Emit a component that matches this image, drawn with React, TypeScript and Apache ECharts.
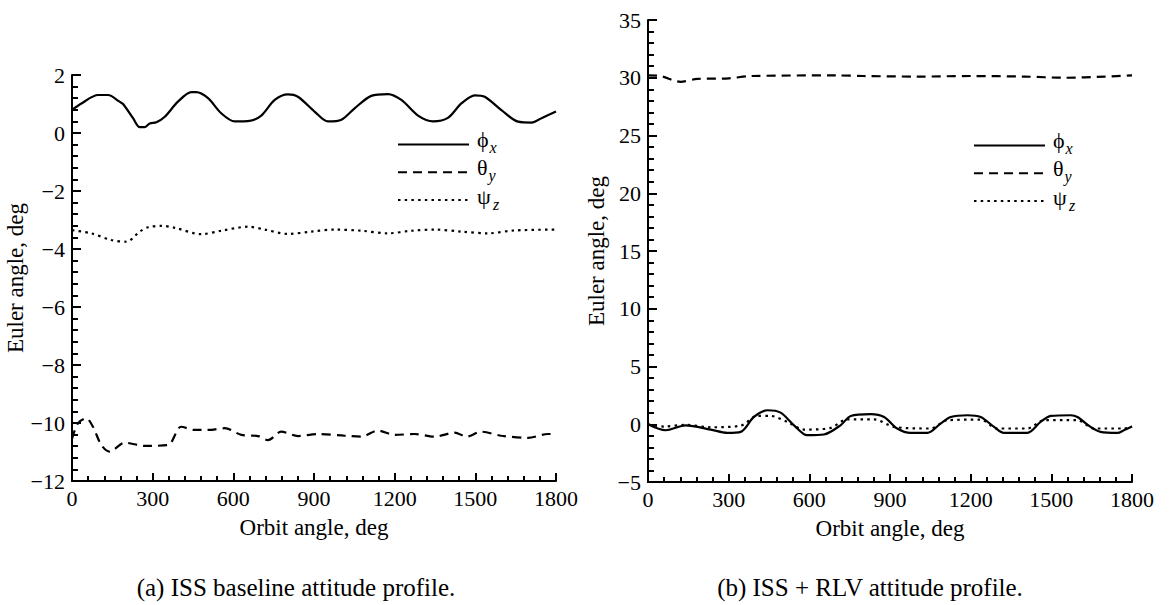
import React, { useEffect, useRef } from 'react';
import * as echarts from 'echarts';

const FONT = '"Liberation Serif", "Times New Roman", Times, serif';

// (a) ISS baseline
const aPhiX = [0, 35, 97, 134, 177, 190, 227, 252, 270, 289, 314, 345, 394, 444, 462, 506, 555, 605, 661, 704, 754, 803, 840, 902, 952, 1002, 1051, 1113, 1175, 1225, 1287, 1343, 1398, 1448, 1498, 1535, 1597, 1659, 1709, 1746, 1800];
const aPhiY = [0.8, 1.02, 1.31, 1.31, 1.08, 1.0, 0.51, 0.2, 0.2, 0.33, 0.37, 0.56, 1.08, 1.41, 1.41, 1.2, 0.68, 0.4, 0.42, 0.6, 1.14, 1.33, 1.25, 0.74, 0.4, 0.46, 0.85, 1.28, 1.34, 1.14, 0.6, 0.4, 0.52, 1.02, 1.3, 1.25, 0.79, 0.39, 0.36, 0.51, 0.74];
const aThetaX = [0, 22, 53, 78, 109, 140, 196, 270, 357, 406, 456, 506, 568, 630, 692, 729, 778, 840, 915, 1014, 1076, 1138, 1200, 1274, 1349, 1423, 1467, 1522, 1597, 1696, 1770, 1800];
const aThetaY = [-10.55, -10.01, -9.84, -10.13, -10.76, -10.99, -10.68, -10.79, -10.76, -10.13, -10.24, -10.24, -10.18, -10.41, -10.45, -10.59, -10.3, -10.45, -10.38, -10.44, -10.47, -10.26, -10.41, -10.38, -10.47, -10.33, -10.47, -10.3, -10.44, -10.51, -10.38, -10.38];
const aPsiX = [0, 72, 146, 202, 252, 283, 332, 382, 481, 555, 655, 717, 803, 890, 977, 1076, 1175, 1262, 1349, 1448, 1547, 1646, 1800];
const aPsiY = [-3.35, -3.46, -3.69, -3.75, -3.4, -3.25, -3.2, -3.27, -3.49, -3.37, -3.23, -3.33, -3.48, -3.4, -3.33, -3.37, -3.46, -3.37, -3.33, -3.4, -3.46, -3.36, -3.33];

// (b) ISS + RLV
const bPhiX = [0, 66, 140, 233, 295, 345, 394, 444, 493, 543, 592, 654, 716, 754, 828, 878, 927, 977, 1039, 1088, 1126, 1188, 1237, 1287, 1324, 1411, 1460, 1498, 1572, 1597, 1646, 1683, 1746, 1770, 1800];
const bPhiY = [0, -0.52, -0.09, -0.46, -0.75, -0.66, 0.63, 1.21, 1.01, -0.09, -0.95, -0.89, -0.09, 0.72, 0.87, 0.63, -0.37, -0.75, -0.75, 0.06, 0.63, 0.78, 0.63, -0.23, -0.75, -0.75, 0.2, 0.72, 0.78, 0.63, -0.23, -0.66, -0.75, -0.52, -0.2];
const bThetaX = [0, 45, 121, 183, 300, 380, 700, 800, 1000, 1200, 1400, 1550, 1700, 1800];
const bThetaY = [30.2, 30.15, 29.65, 29.9, 29.95, 30.15, 30.2, 30.15, 30.1, 30.15, 30.1, 30.0, 30.1, 30.2];
const bPsiX = [0, 60, 140, 233, 345, 406, 456, 518, 580, 679, 741, 840, 915, 1051, 1113, 1237, 1299, 1411, 1473, 1597, 1659, 1770, 1800];
const bPsiY = [0, -0.2, -0.05, -0.26, -0.12, 0.72, 0.72, 0.2, -0.46, -0.32, 0.43, 0.43, -0.23, -0.37, 0.35, 0.4, -0.37, -0.37, 0.35, 0.35, -0.37, -0.37, -0.2];

const names = ['phi', 'theta', 'psi'];
const legendMain = ['\u03D5', '\u03B8', '\u03C8'];
const legendSub = ['x', 'y', 'z'];

const xTicks = { min: 0, max: 1800, interval: 300 };
const aYTicks = { min: -12, max: 2, interval: 2 };
const bYTicks = { min: -5, max: 35, interval: 5 };

const captions = ['(a) ISS baseline attitude profile.', '(b) ISS + RLV attitude profile.'];

const pairs = (xs: number[], ys: number[]) => xs.map((x, i) => [x, ys[i]]);
const minus = (v: number) => (v < 0 ? '\u2212' + Math.abs(v) : String(v));

const styles: Record<string, any> = {
  phi: { color: '#000', width: 2.2, type: 'solid' },
  theta: { color: '#000', width: 2.2, type: [9, 6] },
  psi: { color: '#000', width: 2.2, type: [2.5, 4.2] },
};

function xAxis(gridIndex: number) {
  return {
    type: 'value', gridIndex, ...xTicks,
    axisLine: { show: true, onZero: false, lineStyle: { color: '#000', width: 2 } },
    axisTick: { show: true, inside: true, length: 8, lineStyle: { color: '#000', width: 2 } },
    minorTick: { show: true, splitNumber: 5, length: 5, lineStyle: { color: '#000', width: 2 } },
    splitLine: { show: false },
    axisLabel: { color: '#000', fontFamily: FONT, fontSize: 22, margin: 6, formatter: minus },
    name: 'Orbit angle, deg', nameLocation: 'middle', nameGap: 35,
    nameTextStyle: { color: '#000', fontFamily: FONT, fontSize: 23 },
  };
}
function yAxis(gridIndex: number, t: any) {
  return {
    type: 'value', gridIndex, ...t,
    axisLine: { show: true, onZero: false, lineStyle: { color: '#000', width: 2 } },
    axisTick: { show: true, inside: true, length: 9, lineStyle: { color: '#000', width: 2 } },
    minorTick: { show: true, splitNumber: 5, length: 6, lineStyle: { color: '#000', width: 2 } },
    splitLine: { show: false },
    axisLabel: { color: '#000', fontFamily: FONT, fontSize: 22, margin: 7, formatter: minus },
    name: 'Euler angle, deg', nameLocation: 'middle', nameGap: 40,
    nameTextStyle: { color: '#000', fontFamily: FONT, fontSize: 23 },
  };
}

// legend sample lines come from the legend component; its labels are drawn as text beside them
function legend(left: number, top: number) {
  return {
    left, top, padding: 0, orient: 'vertical', itemWidth: 71, itemHeight: 14, itemGap: 16.5,
    selectedMode: false, data: names,
    itemStyle: { color: 'rgba(0,0,0,0)', borderWidth: 0, opacity: 0 },
    formatter: () => '',
    textStyle: { fontSize: 8, lineHeight: 8 },
  };
}

function legendLabels(x: number, firstRow: number) {
  const subDx = [12.5, 11.5, 16];
  const out: any[] = [];
  legendMain.forEach((m, i) => {
    const y = firstRow + i * 28.5;
    out.push({ type: 'text', x, y, style: { text: m, fill: '#000', font: `22px ${FONT}`, textAlign: 'left', textVerticalAlign: 'middle' } });
    out.push({ type: 'text', x: x + subDx[i], y: y + 8, style: { text: legendSub[i], fill: '#000', font: `italic 16px ${FONT}`, textAlign: 'left', textVerticalAlign: 'middle' } });
  });
  return out;
}

function series(name: string, xs: number[], ys: number[], idx: number) {
  return {
    type: 'line', name, xAxisIndex: idx, yAxisIndex: idx,
    data: pairs(xs, ys), symbol: 'none', smooth: 0.3,
    lineStyle: styles[name], itemStyle: { color: '#000' },
  };
}

export default function App() {
  const ref = useRef<HTMLDivElement>(null);
  useEffect(() => {
    if (!ref.current) return;
    const chart = echarts.init(ref.current, undefined, { renderer: 'svg' });
    chart.setOption({
      animation: false,
      backgroundColor: '#fff',
      grid: [
        { left: 72, top: 75, width: 484, height: 406 },
        { left: 648, top: 20, width: 484, height: 462 },
      ],
      xAxis: [xAxis(0), xAxis(1)],
      yAxis: [yAxis(0, aYTicks), yAxis(1, bYTicks)],
      legend: [legend(397, 139), legend(973, 140)],
      series: [
        series('phi', aPhiX, aPhiY, 0),
        series('theta', aThetaX, aThetaY, 0),
        series('psi', aPsiX, aPsiY, 0),
        series('phi', bPhiX, bPhiY, 1),
        series('theta', bThetaX, bThetaY, 1),
        series('psi', bPsiX, bPsiY, 1),
      ],
      graphic: [
        ...legendLabels(477, 139),
        ...legendLabels(1053, 140),
        { type: 'text', x: 296, y: 587, style: { text: captions[0], fill: '#000', font: `25px ${FONT}`, textAlign: 'center', textVerticalAlign: 'middle' } },
        { type: 'text', x: 870, y: 587, style: { text: captions[1], fill: '#000', font: `25px ${FONT}`, textAlign: 'center', textVerticalAlign: 'middle' } },
      ],
    });
    return () => chart.dispose();
  }, []);
  return <div ref={ref} style={{ position: 'absolute', left: 0, top: 0, width: 1172, height: 605 }} />;
}
